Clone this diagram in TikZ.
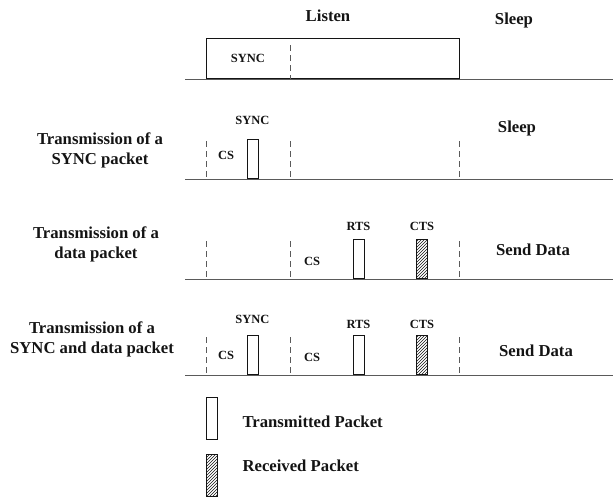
\documentclass[tikz,border=0pt]{standalone}
\usepackage{fontspec}
\setmainfont{Liberation Serif}
\usetikzlibrary{positioning,patterns}
\definecolor{tinta}{HTML}{141414}
\definecolor{linea}{HTML}{5A5A5A}
\tikzset{pk/.style={draw=tinta,line width=.8pt,minimum width=11pt,minimum height=39pt,inner sep=0,anchor=south},
         rx/.style={pk,pattern=north east lines,pattern color=tinta},
         big/.style={font=\fontsize{16.7}{20}\selectfont\bfseries,text=tinta,align=center},
         sm/.style={font=\fontsize{12.5}{14}\selectfont\bfseries,text=tinta},
         eje/.style={linea,line width=.9pt},
         sep/.style={linea,line width=.8pt,dash pattern=on 6pt off 4pt}}

\begin{document}
\begin{tikzpicture}[x=1pt,y=-1pt]
  \useasboundingbox (0,0) rectangle (613,499);
  % listen / sleep cycle
  \coordinate (a0) at (185,79); \coordinate (a9) at (613,79);
  \draw[eje] (a0) -- (a9);
  \node[draw=tinta,line width=.8pt,minimum width=253pt,minimum height=40pt,inner sep=0,anchor=south west] (lis) at (206,79) {};
  \coordinate (at) at (290,45); \coordinate (as) at (290,79);
  \draw[sep] (at) -- (as);
  \node[sm] (synca) at (248,58) {SYNC};
  \node[big] (listen) at (328,16) {Listen};
  \node[big] (sleepa) at (514,20) {Sleep};
  % three cases
  \foreach \r/\y in {b/179,c/279,d/375} {
    \coordinate (\r0) at (185,\y); \coordinate (\r9) at (613,\y);
    \draw[eje] (\r0) -- (\r9);
    \foreach \x [count=\k] in {206,290,459} {
      \coordinate (\r t\k) at (\x,\y-38); \coordinate (\r s\k) at (\x,\y);
      \draw[sep] (\r t\k) -- (\r s\k);
    }
  }
  \node[big] (tb) at (100,150) {Transmission of a\\SYNC packet};
  \node[big] (tc) at (96,244) {Transmission of a\\data packet};
  \node[big] (td) at (92,339) {Transmission of a\\SYNC and data packet};
  \node[pk] (syncb) at (252.5,179) {};
  \node[sm,above=11pt of syncb] {SYNC};
  \node[sm] (csb) at (226,155) {CS};
  \node[big] (sleepb) at (517,128) {Sleep};
  \node[sm] (csc) at (312,261) {CS};
  \node[pk] (rtsc) at (358.5,279) {};
  \node[rx] (ctsc) at (422,279) {};
  \node[sm,above=5pt of rtsc] {RTS};
  \node[sm,above=5pt of ctsc] {CTS};
  \node[big] (sendc) at (533,250) {Send Data};
  \node[sm] (csd1) at (226,355) {CS};
  \node[sm] (csd2) at (312,357) {CS};
  \node[pk] (syncd) at (252.5,375) {};
  \node[pk] (rtsd) at (358.5,375) {};
  \node[rx] (ctsd) at (422,375) {};
  \node[sm,above=8pt of syncd] {SYNC};
  \node[sm,above=3pt of rtsd] {RTS};
  \node[sm,above=3pt of ctsd] {CTS};
  \node[big] (sendd) at (536,351) {Send Data};
  % legend
  \node[pk,minimum height=42pt] (ltx) at (211.5,440) {};
  \node[rx,minimum height=42pt] (lrx) at (211.5,497) {};
  \node[big,anchor=west] at (239,422) {Transmitted Packet};
  \node[big,anchor=west] at (239,466) {Received Packet};
\end{tikzpicture}
\end{document}
